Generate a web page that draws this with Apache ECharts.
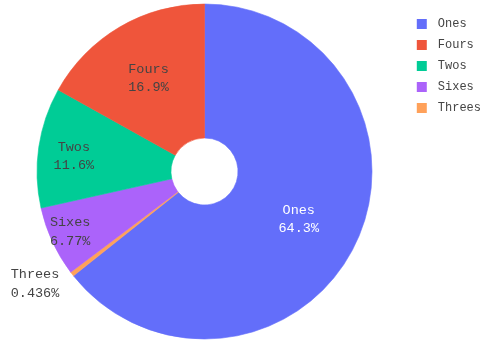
<!DOCTYPE html>
<html>
<head>
<meta charset="utf-8">
<script src="https://cdn.jsdelivr.net/npm/echarts@6/dist/echarts.min.js"></script>
<style>
  html, body { margin: 0; padding: 0; background: #fff; }
  #chart { width: 489px; height: 344px; }
</style>
</head>
<body>
<div id="chart"></div>
<script>
// Slices in drawing order (clockwise from 12 o'clock)
var categories = ['Ones', 'Threes', 'Sixes', 'Twos', 'Fours'];
var shares = [64.3, 0.436, 6.77, 11.6, 16.9];           // percent of total
var legendOrder = ['Ones', 'Fours', 'Twos', 'Sixes', 'Threes'];

var sliceColors = {
  Ones: '#636efa', Fours: '#ef553b', Twos: '#00cc96', Sixes: '#ab63fa', Threes: '#ffa15a'
};
var labelColors = { Ones: '#ffffff' };

var monoFont = "'Courier New', 'Liberation Mono', monospace";
var cx = 204.5, cy = 171.5, rIn = 33.5, rOut = 167.5;
// narrow slices get their labels pushed outward, toward the wider part of the wedge
var labelPush = { Ones: 6, Fours: 9, Twos: 31, Sixes: 43, Threes: 0 };
var labelNudge = { Ones: [-5, 3], Fours: [2, 3], Twos: [2, 7], Sixes: [-3, -4], Threes: [1, 6] };

var chart = echarts.init(document.getElementById('chart'), null, { renderer: 'canvas' });

var data = categories.map(function (name, i) {
  var item = {
    name: name,
    value: shares[i],
    // a hairline border in the fill colour hides anti-aliasing seams between wedges
    itemStyle: { color: sliceColors[name], borderColor: sliceColors[name], borderWidth: 0.6 },
    label: { color: labelColors[name] || '#444444' }
  };
  if (name === 'Threes') {
    item.label.position = 'outside';
    item.labelLine = { show: false, length: 6, length2: 4 };
  }
  return item;
});

chart.setOption({
  animation: false,
  backgroundColor: '#ffffff',
  legend: {
    orient: 'vertical',
    right: 3,
    top: 13,
    itemWidth: 10,
    itemHeight: 10,
    itemGap: 9,
    icon: 'rect',
    data: legendOrder,
    itemStyle: { borderWidth: 0 },
    textStyle: { fontFamily: monoFont, fontSize: 12, color: '#444444', padding: [0, 0, 0, 6] }
  },
  series: [{
    type: 'pie',
    center: [cx, cy],
    radius: [rIn, rOut],
    startAngle: 90,
    clockwise: true,
    avoidLabelOverlap: false,
    minAngle: 0,
    label: {
      show: true,
      position: 'inside',
      fontFamily: monoFont,
      fontSize: 13.5,
      lineHeight: 18.5,
      align: 'center',
      formatter: function (p) { return p.name + '\n' + p.value + '%'; }
    },
    labelLine: { show: false },
    labelLayout: function (p) {
      var name = categories[p.dataIndex];
      var r = p.rect;
      var dx = r.x + r.width / 2 - cx, dy = r.y + r.height / 2 - cy;
      var d = Math.sqrt(dx * dx + dy * dy) || 1;
      var push = labelPush[name] || 0;
      var nudge = labelNudge[name] || [0, 0];
      return { dx: dx / d * push + nudge[0], dy: dy / d * push + nudge[1] };
    },
    data: data
  }]
});
</script>
</body>
</html>
